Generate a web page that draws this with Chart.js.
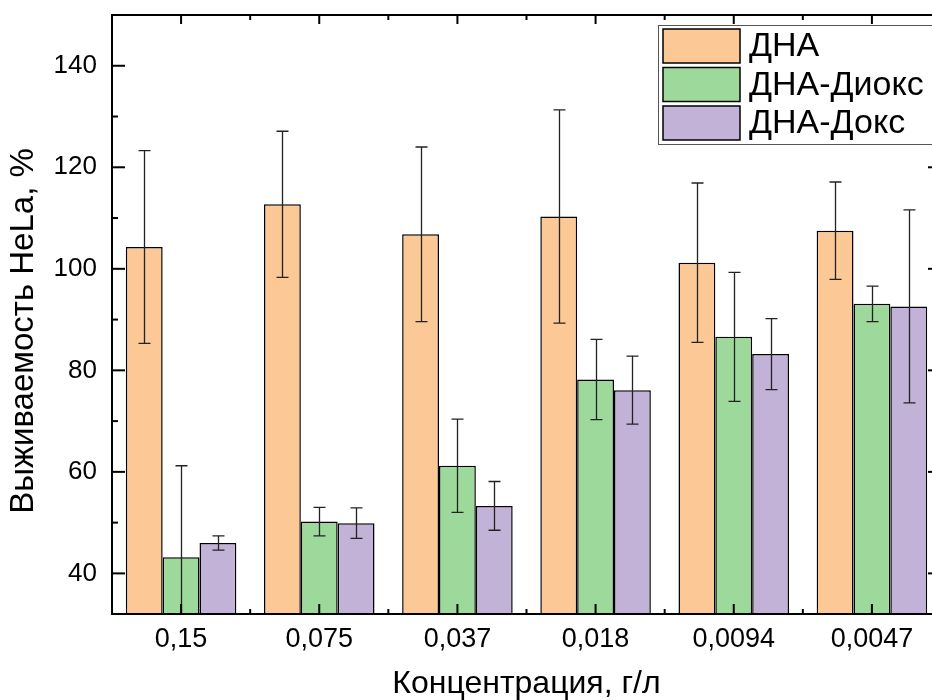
<!DOCTYPE html>
<html>
<head>
<meta charset="utf-8">
<script src="https://cdn.jsdelivr.net/npm/chart.js"></script>
<style>
  body { margin: 0; overflow: hidden; background: #fff; }
  #wrap { width: 950px; height: 700px; }
</style>
</head>
<body>
<div id="wrap"><canvas id="chart"></canvas></div>
<script>
const concentrations = ['0,15', '0,075', '0,037', '0,018', '0,0094', '0,0047'];
const dnaValues = [104.3, 112.7, 106.8, 110.3, 101.2, 107.5];
const dnaErrors = [19.0, 14.4, 17.2, 21.0, 15.7, 9.6];
const dioxValues = [43.2, 50.2, 61.2, 78.2, 86.6, 93.1];
const dioxErrors = [18.0, 2.8, 9.2, 7.9, 12.7, 3.5];
const doxValues = [46.0, 49.9, 53.3, 76.1, 83.2, 92.6];
const doxErrors = [1.4, 3.0, 4.8, 6.7, 7.0, 19.0];
const yTicks = [40, 60, 80, 100, 120, 140];
const yMinorTicks = [50, 70, 90, 110, 130];

const FONT = '"Liberation Sans", Arial, sans-serif';
const yTitle = 'Выживаемость HeLa, %';

// error bars drawn from each dataset's "errors" array
const errorBars = {
  id: 'errorBars',
  afterDatasetsDraw(chart) {
    const { ctx, chartArea: a, scales: { y } } = chart;
    ctx.save();
    ctx.beginPath();
    ctx.rect(a.left, a.top, a.right - a.left, a.bottom - a.top);
    ctx.clip();
    ctx.strokeStyle = '#222';
    ctx.lineWidth = 1.3;
    chart.data.datasets.forEach((ds, i) => {
      chart.getDatasetMeta(i).data.forEach((bar, j) => {
        const v = ds.data[j], e = ds.errors[j];
        const x = Math.round(bar.x) + 0.5;
        const top = y.getPixelForValue(v + e);
        const bot = y.getPixelForValue(v - e);
        ctx.beginPath();
        ctx.moveTo(x, top); ctx.lineTo(x, bot);
        ctx.moveTo(x - 6, top); ctx.lineTo(x + 6, top);
        ctx.moveTo(x - 6, bot); ctx.lineTo(x + 6, bot);
        ctx.stroke();
      });
    });
    ctx.restore();
  }
};

// box frame, inward ticks, legend and rotated y title
const frame = {
  id: 'frame',
  afterDraw(chart) {
    const { ctx, chartArea: a, scales: { x, y } } = chart;
    ctx.save();
    ctx.strokeStyle = '#000';
    ctx.lineWidth = 2;
    ctx.strokeRect(a.left, a.top, a.right - a.left, a.bottom - a.top);
    const line = (x1, y1, x2, y2) => { ctx.beginPath(); ctx.moveTo(x1, y1); ctx.lineTo(x2, y2); ctx.stroke(); };
    yTicks.forEach(v => {
      const p = y.getPixelForValue(v);
      line(a.left, p, a.left + 13, p);
      line(a.right, p, a.right - 13, p);
    });
    yMinorTicks.forEach(v => {
      const p = y.getPixelForValue(v);
      line(a.left, p, a.left + 6, p);
      line(a.right, p, a.right - 6, p);
    });
    concentrations.forEach((c, i) => {
      const p = x.getPixelForValue(i);
      line(p, a.bottom, p, a.bottom - 10);
      line(p, a.top, p, a.top + 9);
      if (i > 0) {
        const m = (p + x.getPixelForValue(i - 1)) / 2;
        line(m, a.bottom, m, a.bottom - 5);
        line(m, a.top, m, a.top + 5);
      }
    });

    // legend
    const lx = a.right - 283, ly = a.top + 10;
    ctx.fillStyle = '#fff';
    ctx.fillRect(lx, ly, 300, 119);
    ctx.strokeStyle = '#555';
    ctx.lineWidth = 1;
    ctx.strokeRect(lx + 0.5, ly + 0.5, 300, 119);
    ctx.font = '34px ' + FONT;
    ctx.textBaseline = 'middle';
    chart.data.datasets.forEach((ds, i) => {
      const sy = ly + 4 + i * 38.5;
      ctx.fillStyle = ds.backgroundColor;
      ctx.fillRect(lx + 5, sy, 77, 34);
      ctx.strokeStyle = '#000';
      ctx.lineWidth = 1.5;
      ctx.strokeRect(lx + 5, sy, 77, 34);
      ctx.fillStyle = '#000';
      ctx.fillText(ds.label, lx + 91, sy + 18);
    });

    // y title
    ctx.font = '33px ' + FONT;
    ctx.translate(24, 331);
    ctx.rotate(-Math.PI / 2);
    ctx.textAlign = 'center';
    ctx.fillText(yTitle, 0, 0);
    ctx.restore();
  }
};

const makeSet = (label, data, errors, color) => ({
  label, data, errors,
  backgroundColor: color,
  borderColor: '#000',
  borderWidth: 1.5,
  borderSkipped: false,
  categoryPercentage: 0.8,
  barPercentage: 1.0
});

new Chart(document.getElementById('chart'), {
  type: 'bar',
  data: {
    labels: concentrations,
    datasets: [
      makeSet('ДНА', dnaValues, dnaErrors, '#FBC896'),
      makeSet('ДНА-Диокс', dioxValues, dioxErrors, '#9ED99C'),
      makeSet('ДНА-Докс', doxValues, doxErrors, '#C3B2D8')
    ]
  },
  options: {
    responsive: true,
    maintainAspectRatio: false,
    animation: false,
    layout: { padding: { top: 15, right: 9, left: 0, bottom: 0 } },
    plugins: { legend: { display: false }, tooltip: { enabled: false } },
    scales: {
      x: {
        grid: { display: false, drawTicks: false },
        border: { display: false },
        ticks: { font: { size: 27, family: FONT }, color: '#000', padding: 9 },
        title: {
          display: true, text: 'Концентрация, г/л', color: '#000',
          font: { size: 32, family: FONT, lineHeight: 1 }, padding: { top: 0, bottom: 0 }
        },
        afterFit: s => { s.height = 86; s.paddingLeft = 0; s.paddingRight = 0; }
      },
      y: {
        min: 32, max: 150,
        afterBuildTicks: s => { s.ticks = yTicks.map(v => ({ value: v })); },
        grid: { display: false, drawTicks: false },
        border: { display: false },
        ticks: { font: { size: 26, family: FONT }, color: '#000', padding: 15 },
        afterFit: s => { s.width = 112; s.paddingTop = 0; s.paddingBottom = 0; }
      }
    }
  },
  plugins: [errorBars, frame]
});
</script>
</body>
</html>
